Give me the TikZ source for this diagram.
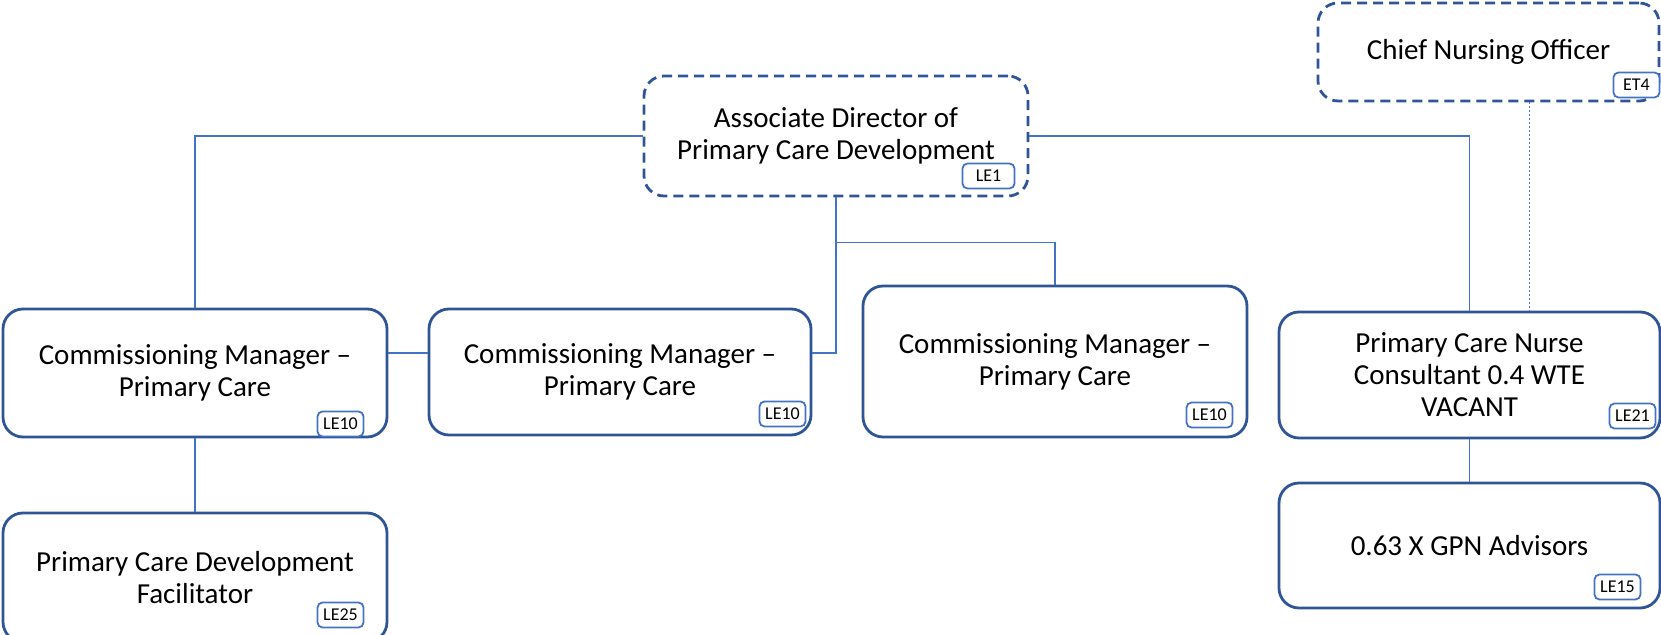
\documentclass[tikz,border=0pt]{standalone}
\usepackage{fontspec}
\setmainfont{Carlito}
\usetikzlibrary{calc}

\definecolor{boxblue}{RGB}{47,85,151}
\definecolor{lineblue}{RGB}{68,114,196}
\definecolor{tagblue}{RGB}{68,114,196}

\begin{document}
\begin{tikzpicture}[
        x=0.5pt, y=-0.5pt,
        post/.style={draw=boxblue, line width=1.4pt, rounded corners=10pt, fill=white,
            align=center, inner sep=0pt, font=\fontsize{14.5}{16}\selectfont},
        dashpost/.style={post, dash pattern=on 5pt off 3pt},
        tag/.style={draw=tagblue, line width=0.9pt, rounded corners=2.5pt, fill=white,
            anchor=south east, inner sep=0pt, minimum width=23pt, minimum height=12.5pt,
            font=\fontsize{9}{10}\selectfont},
        conn/.style={draw=lineblue, line width=0.6pt},
        dotconn/.style={draw=lineblue, line width=0.5pt, dash pattern=on 1pt off 1pt},
    ]

    \useasboundingbox (0,0) rectangle (1661,635);

    % boxes
    \node[dashpost, minimum width=192pt, minimum height=60pt] (ad) at (836,136)
        {Associate Director of\\Primary Care Development};
    \node[dashpost, minimum width=170.5pt, minimum height=49pt] (cno) at (1488.5,52)
        {Chief Nursing Officer};
    \node[post, minimum width=192pt, minimum height=64pt] (cm1) at (195,373)
        {Commissioning Manager --\\Primary Care};
    \node[post, minimum width=191pt, minimum height=63pt] (cm2) at (620,372)
        {Commissioning Manager --\\Primary Care};
    \node[post, minimum width=192pt, minimum height=75.5pt] (cm3) at (1055,361.5)
        {Commissioning Manager --\\Primary Care};
    \node[post, minimum width=190.5pt, minimum height=63pt] (pcn) at (1469.5,375)
        {Primary Care Nurse\\Consultant 0.4 WTE\\VACANT};
    \node[post, minimum width=190.5pt, minimum height=62.5pt] (gpn) at (1469.5,545.5)
        {0.63 X GPN Advisors};
    \node[post, minimum width=192pt, minimum height=64.5pt] (pcdf) at (195,577.5)
        {Primary Care Development\\Facilitator};

    % grade tags
    \node[tag, minimum width=26pt] (adtag) at ($(ad.south east)+(-14,-8)$) {LE1};
    \node[tag] (cnotag) at ($(cno.south east)+(0,-4)$) {ET4};
    \node[tag] (cm1tag) at ($(cm1.south east)+(-24,-1)$) {LE10};
    \node[tag] (cm2tag) at ($(cm2.south east)+(-6,-9)$) {LE10};
    \node[tag] (cm3tag) at ($(cm3.south east)+(-15,-10)$) {LE10};
    \node[tag] (pcntag) at ($(pcn.south east)+(-5,-10)$) {LE21};
    \node[tag] (gpntag) at ($(gpn.south east)+(-20,-9)$) {LE15};
    \node[tag] (pcdftag) at ($(pcdf.south east)+(-24,-15)$) {LE25};

    % reporting lines
    \coordinate (mid) at (0,353);
    \coordinate (branch) at ($(ad.south)+(0,45)$);
    \coordinate (cnotap) at (1529,0);

    \draw[conn] (ad.west) -| (cm1.north);
    \draw[conn] (ad.east) -| (pcn.north);
    \draw[conn] (ad.south) -- (branch) -| (cm3.north);
    \draw[conn] (branch) |- (cm2.east |- mid);
    \draw[conn] (cm1.east |- mid) -- (cm2.west |- mid);
    \draw[conn] (cm1.south) -- (pcdf.north);
    \draw[conn] (pcn.south) -- (gpn.north);
    \draw[dotconn] (cno.south -| cnotap) -- (pcn.north -| cnotap);

\end{tikzpicture}
\end{document}
